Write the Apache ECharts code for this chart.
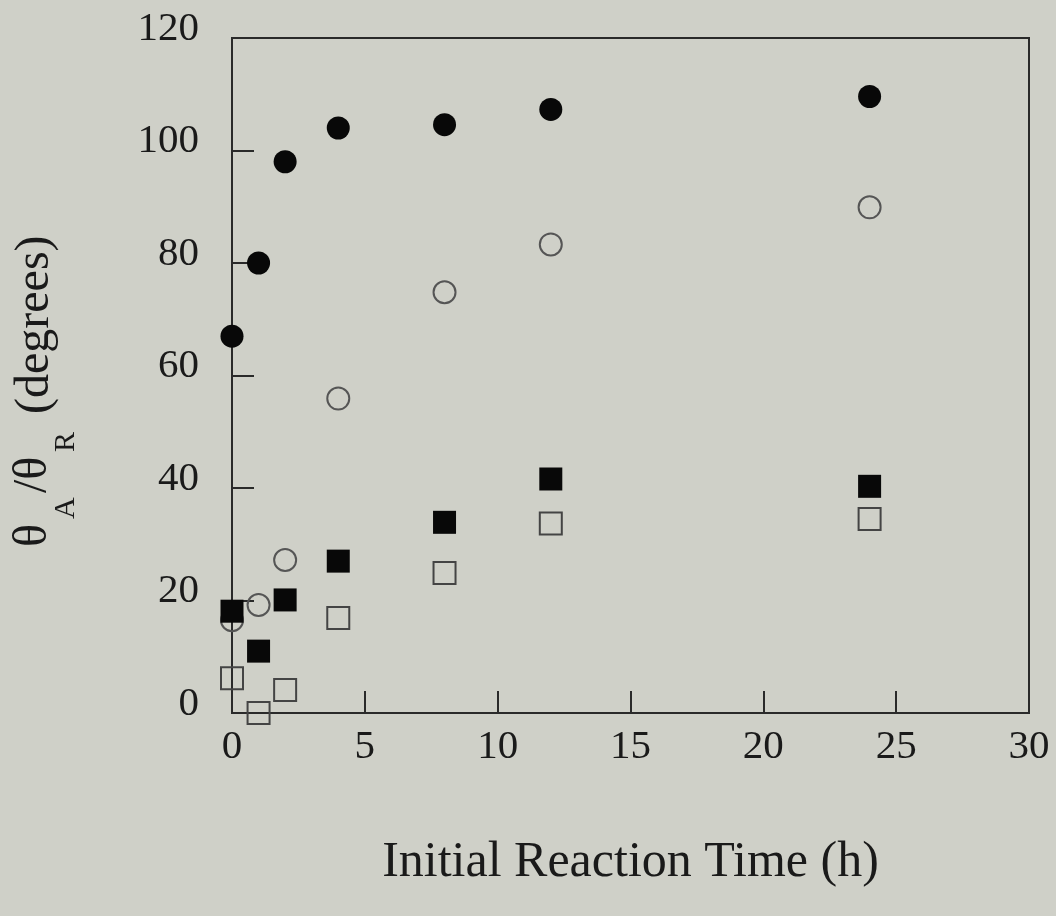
<!DOCTYPE html>
<html>
<head>
<meta charset="utf-8">
<script src="https://cdn.jsdelivr.net/npm/echarts@6/dist/echarts.min.js"></script>
<style>
  html, body { margin: 0; padding: 0; background: #cfd0c8; }
  #chart { width: 1056px; height: 916px; }
</style>
</head>
<body>
<div id="chart"></div>
<script>
// reaction times (h)
const times = [0, 1, 2, 4, 8, 12, 24];
// contact angles
const filledCircle = [67.0, 80.0, 98.0, 104.0, 104.6, 107.3, 109.6];
const openCircle = [16.5, 19.2, 27.2, 55.9, 74.8, 83.3, 89.9];
const filledSquare = [18.1, 11.0, 20.1, 27.0, 33.9, 41.6, 40.3];
const openSquare = [6.2, 0.0, 4.1, 16.9, 24.9, 33.7, 34.5];
const xTicks = [0, 5, 10, 15, 20, 25, 30];
const yTicks = [0, 20, 40, 60, 80, 100, 120];

const font = "'Liberation Serif', 'DejaVu Serif', serif";
const lineColor = "#2a2a2a";
const textColor = "#1a1a1a";

function pairs(ys) {
  return times.map((t, i) => [t, ys[i]]);
}

// pieces of the rotated y title: [text, x, y, size]
const yTitle = [
  ["θ", 33, 547, 48],
  ["A", 66, 519, 30],
  ["/θ", 33, 493, 48],
  ["R", 66, 452, 30],
  ["(degrees)", 35, 414, 48]
];

const chart = echarts.init(document.getElementById("chart"));
chart.setOption({
  backgroundColor: "#cfd0c8",
  animation: false,
  grid: {
    left: 232,
    top: 38,
    right: 27,
    bottom: 203,
    show: true,
    borderColor: lineColor,
    borderWidth: 2,
    backgroundColor: "transparent"
  },
  xAxis: {
    type: "value",
    min: xTicks[0],
    max: xTicks[xTicks.length - 1],
    interval: 5,
    name: "Initial Reaction Time (h)",
    nameLocation: "middle",
    nameGap: 125,
    nameTextStyle: { fontFamily: font, fontSize: 50, color: textColor },
    axisLine: { lineStyle: { color: lineColor, width: 2 } },
    axisTick: { inside: true, length: 22, lineStyle: { color: lineColor, width: 2 } },
    axisLabel: { fontFamily: font, fontSize: 41, color: textColor, margin: 14 },
    splitLine: { show: false }
  },
  yAxis: {
    type: "value",
    min: yTicks[0],
    max: yTicks[yTicks.length - 1],
    interval: 20,
    axisLine: { lineStyle: { color: lineColor, width: 2 } },
    axisTick: { inside: true, length: 22, lineStyle: { color: lineColor, width: 2 } },
    axisLabel: {
      fontFamily: font, fontSize: 41, color: textColor, margin: 33,
      verticalAlign: "bottom", lineHeight: 18
    },
    splitLine: { show: false }
  },
  graphic: yTitle.map(p => ({
    type: "text",
    x: p[1],
    y: p[2],
    rotation: Math.PI / 2,
    style: { text: p[0], font: p[3] + "px " + font, fill: textColor, textAlign: "left", textVerticalAlign: "middle" }
  })),
  series: [
    {
      type: "scatter", clip: false, symbol: "circle", symbolSize: 22,
      itemStyle: { color: "transparent", borderColor: "#555", borderWidth: 2, opacity: 1 },
      data: pairs(openCircle)
    },
    {
      type: "scatter", clip: false, symbol: "rect", symbolSize: 22,
      itemStyle: { color: "transparent", borderColor: "#444", borderWidth: 2, opacity: 1 },
      data: pairs(openSquare)
    },
    {
      type: "scatter", clip: false, symbol: "circle", symbolSize: 23,
      itemStyle: { color: "#080808", opacity: 1 },
      data: pairs(filledCircle)
    },
    {
      type: "scatter", clip: false, symbol: "rect", symbolSize: 23,
      itemStyle: { color: "#080808", opacity: 1 },
      data: pairs(filledSquare)
    }
  ]
});
</script>
</body>
</html>
